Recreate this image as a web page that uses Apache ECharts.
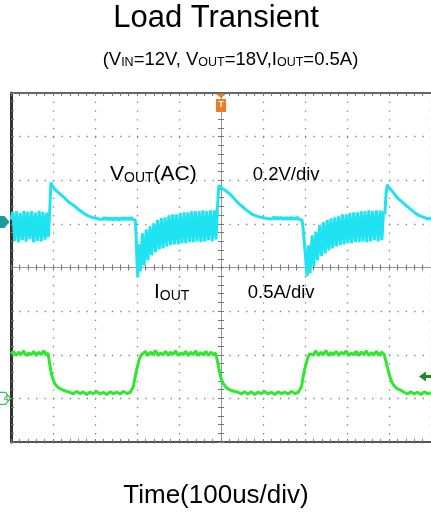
<!DOCTYPE html>
<html>
<head>
<meta charset="utf-8">
<script src="https://cdn.jsdelivr.net/npm/echarts@6/dist/echarts.min.js"></script>
<style>
html,body{margin:0;padding:0;background:#fff;}
#chart{width:431px;height:513px;}
</style>
</head>
<body>
<div id="chart"></div>
<script>
// ---- Axis ranges (time in us, 100us/div; Vout AC 0.2V/div; Iout 0.5A/div)
const timeRange = [-500, 500];
const voutRange = [-1.0, 0.6];
const ioutRange = [-0.5, 3.5];

// ---- VOUT (AC) waveform, [time us, volts]
const voutRipple1 = [[-500,0.020],[-496,0.055],[-491,-0.078],[-487,0.058],[-482,-0.085],[-478,0.050],[-473,-0.075],[-469,0.060],[-464,-0.082],[-460,0.055],[-455,-0.070],[-451,0.058],[-446,-0.085],[-442,0.052],[-437,-0.078],[-433,0.060],[-428,-0.080],[-424,0.055],[-419,-0.072],[-415,0.050],[-411,-0.060]];
const voutOvershoot1 = [[-408,0.050],[-405,0.190],[-403,0.180],[-400,0.178],[-397,0.162],[-394,0.170],[-391,0.150],[-388,0.158],[-385,0.140],[-382,0.148],[-379,0.130],[-376,0.138],[-373,0.120],[-370,0.126],[-367,0.108],[-364,0.116],[-361,0.098],[-358,0.106],[-355,0.090],[-352,0.096],[-349,0.082],[-346,0.088],[-343,0.072],[-340,0.078],[-337,0.062],[-334,0.068],[-331,0.055],[-328,0.060],[-325,0.046],[-322,0.052],[-319,0.040],[-316,0.046],[-313,0.034],[-310,0.040],[-306,0.030],[-302,0.037],[-298,0.026],[-294,0.034],[-290,0.022],[-286,0.031],[-282,0.020],[-278,0.030],[-274,0.019],[-270,0.029],[-266,0.018],[-262,0.028],[-258,0.017],[-254,0.029],[-250,0.018],[-246,0.028],[-242,0.017],[-238,0.029],[-234,0.018],[-230,0.030],[-226,0.019],[-222,0.029],[-218,0.018],[-214,0.030],[-210,0.020],[-206,0.028],[-204,0.018],[-202,-0.060],[-200,-0.170],[-198,-0.245]];
const voutRipple2 = [[-196,-0.094],[-192,-0.218],[-187,-0.043],[-183,-0.190],[-178,-0.025],[-174,-0.167],[-169,-0.011],[-165,-0.144],[-160,0.003],[-156,-0.130],[-151,0.017],[-147,-0.117],[-142,0.026],[-138,-0.112],[-133,0.030],[-129,-0.103],[-124,0.039],[-120,-0.098],[-115,0.044],[-111,-0.094],[-106,0.044],[-102,-0.094],[-97,0.049],[-93,-0.089],[-88,0.053],[-84,-0.089],[-79,0.053],[-75,-0.084],[-70,0.058],[-66,-0.084],[-61,0.058],[-57,-0.080],[-52,0.058],[-48,-0.084],[-43,0.062],[-39,-0.080],[-34,0.058],[-30,-0.075],[-25,0.062],[-21,-0.080],[-16,0.062],[-12,-0.071]];
const voutOvershoot2 = [[-8,0.090],[-5,0.177],[-2,0.186],[1,0.165],[4,0.172],[7,0.158],[10,0.164],[13,0.150],[16,0.156],[19,0.140],[22,0.146],[25,0.130],[28,0.134],[31,0.116],[34,0.120],[37,0.104],[40,0.108],[43,0.092],[46,0.096],[49,0.082],[52,0.086],[55,0.072],[58,0.076],[61,0.062],[64,0.066],[67,0.054],[70,0.058],[74,0.044],[78,0.050],[82,0.038],[86,0.044],[90,0.032],[94,0.040],[98,0.029],[102,0.037],[106,0.026],[110,0.035],[114,0.024],[118,0.033],[122,0.022],[126,0.032],[130,0.021],[134,0.031],[138,0.020],[142,0.031],[146,0.020],[150,0.030],[154,0.019],[158,0.030],[162,0.020],[166,0.031],[170,0.019],[174,0.030],[178,0.020],[182,0.031],[186,0.020],[190,0.028],[193,0.018],[196,-0.030],[199,-0.100],[202,-0.170],[205,-0.239]];
const voutRipple3 = [[208,-0.098],[212,-0.227],[217,-0.052],[221,-0.195],[226,-0.035],[230,-0.168],[235,-0.004],[239,-0.148],[244,0.008],[248,-0.135],[253,0.018],[257,-0.122],[262,0.025],[266,-0.112],[271,0.030],[275,-0.103],[280,0.035],[284,-0.098],[289,0.044],[293,-0.094],[298,0.044],[302,-0.089],[307,0.049],[311,-0.089],[316,0.053],[320,-0.084],[325,0.053],[329,-0.084],[334,0.058],[338,-0.080],[343,0.058],[347,-0.084],[352,0.062],[356,-0.080],[361,0.058],[365,-0.075],[370,0.062],[374,-0.080],[379,0.062],[383,-0.075],[387,0.058]];
const voutOvershoot3 = [[390,0.044],[393,0.136],[396,0.180],[399,0.168],[402,0.172],[405,0.156],[408,0.160],[411,0.142],[414,0.140],[417,0.126],[420,0.130],[423,0.114],[426,0.118],[429,0.104],[432,0.106],[435,0.094],[438,0.098],[441,0.084],[444,0.088],[447,0.074],[450,0.076],[453,0.064],[456,0.066],[459,0.055],[462,0.057],[465,0.046],[468,0.050],[472,0.038],[476,0.042],[480,0.032],[484,0.036],[488,0.026],[492,0.032],[496,0.022],[500,0.028]];

// ---- IOUT waveform, [time us, amps]
const ioutHigh1 = [[-500,0.510],[-494,0.540],[-488,0.490],[-482,0.530],[-476,0.500],[-470,0.545],[-464,0.490],[-458,0.520],[-452,0.500],[-446,0.540],[-440,0.490],[-434,0.530],[-428,0.500],[-422,0.545],[-416,0.495],[-412,0.520]];
const ioutLow1 = [[-408,0.400],[-404,0.285],[-400,0.220],[-396,0.170],[-390,0.135],[-384,0.113],[-376,0.095],[-368,0.082],[-360,0.070],[-352,0.050],[-344,0.080],[-336,0.055],[-328,0.075],[-320,0.045],[-312,0.070],[-304,0.055],[-296,0.080],[-288,0.050],[-280,0.070],[-272,0.045],[-264,0.075],[-256,0.055],[-248,0.070],[-240,0.050],[-232,0.080],[-224,0.055],[-216,0.070],[-213,0.065]];
const ioutHigh2 = [[-209,0.131],[-205,0.230],[-201,0.323],[-197,0.400],[-194,0.458],[-190,0.495],[-186,0.513],[-180,0.540],[-174,0.490],[-168,0.530],[-162,0.500],[-156,0.550],[-150,0.490],[-144,0.520],[-138,0.500],[-132,0.540],[-126,0.490],[-120,0.530],[-114,0.505],[-108,0.545],[-102,0.490],[-96,0.520],[-90,0.500],[-84,0.540],[-78,0.490],[-72,0.530],[-66,0.500],[-60,0.545],[-54,0.490],[-48,0.525],[-42,0.500],[-36,0.540],[-30,0.490],[-24,0.530],[-18,0.500],[-13,0.520]];
const ioutLow2 = [[-9,0.438],[-5,0.340],[-1,0.246],[4,0.180],[11,0.131],[18,0.105],[25,0.090],[31,0.082],[40,0.070],[48,0.050],[56,0.075],[64,0.050],[72,0.075],[80,0.045],[88,0.070],[96,0.055],[104,0.080],[112,0.050],[120,0.070],[128,0.045],[136,0.075],[144,0.055],[152,0.070],[160,0.050],[168,0.080],[176,0.055],[184,0.070],[188,0.065]];
const ioutHigh3 = [[192,0.140],[195,0.231],[199,0.330],[203,0.404],[207,0.470],[211,0.510],[214,0.530],[220,0.500],[226,0.545],[232,0.490],[238,0.530],[244,0.500],[250,0.550],[256,0.490],[262,0.525],[268,0.500],[274,0.540],[280,0.490],[286,0.530],[292,0.505],[298,0.545],[304,0.490],[310,0.520],[316,0.500],[322,0.540],[328,0.490],[334,0.530],[340,0.500],[346,0.545],[352,0.490],[358,0.525],[364,0.500],[370,0.540],[376,0.490],[382,0.530],[388,0.510]];
const ioutLow3 = [[392,0.440],[396,0.361],[402,0.250],[408,0.174],[414,0.135],[420,0.110],[428,0.094],[436,0.070],[444,0.050],[452,0.075],[460,0.050],[468,0.070],[476,0.045],[484,0.075],[492,0.055],[500,0.063]];

const triggerLevel = 0.25; // A
const titleText = 'Load Transient';
const xAxisTitle = 'Time(100us/div)';

const vout = [].concat(voutRipple1, voutOvershoot1, voutRipple2, voutOvershoot2, voutRipple3, voutOvershoot3);
const iout = [].concat(ioutHigh1, ioutLow1, ioutHigh2, ioutLow2, ioutHigh3, ioutLow3);

const FONT = '"Liberation Sans", Arial, sans-serif';
const dotH = [1.3, 7.1];   // dots along horizontal grid lines
const dotV = [1.3, 7.42];  // dots along vertical grid lines

function rt(fs, sfs) {
  return {
    m: {fontSize: fs, lineHeight: fs, fontFamily: FONT, fill: '#000'},
    s: {fontSize: sfs, lineHeight: sfs - 2, fontFamily: FONT, fill: '#000', verticalAlign: 'bottom'}
  };
}

const hiddenLabel = {show: false};
function borderX(pos, color, width, offset, tickInside, showLine) {
  return {
    type: 'value', min: timeRange[0], max: timeRange[1], interval: 100,
    position: pos, offset: offset || 0,
    axisLine: {show: showLine !== false, onZero: false, lineStyle: {color: color, width: width}},
    axisTick: {show: true, inside: tickInside, length: 3, lineStyle: {color: '#777', width: 1}},
    minorTick: {show: true, splitNumber: 5, length: 3, lineStyle: {color: '#777', width: 1}},
    axisLabel: hiddenLabel, splitLine: {show: false}
  };
}
function borderY(color, width, offset, tickInside, showLine) {
  return {
    type: 'value', min: -4, max: 4, interval: 1,
    position: 'left', offset: offset || 0,
    axisLine: {show: showLine !== false, onZero: false, lineStyle: {color: color, width: width}},
    axisTick: {show: true, inside: tickInside, length: 3, lineStyle: {color: '#777', width: 1}},
    minorTick: {show: true, splitNumber: 5, length: 3, lineStyle: {color: '#777', width: 1}},
    axisLabel: hiddenLabel, splitLine: {show: false}
  };
}

const chart = echarts.init(document.getElementById('chart'), null, {renderer: 'canvas'});
const xMain = borderX('bottom', '#555', 2, 0, true);
xMain.splitLine = {show: true, lineStyle: {color: '#808080', width: 1.3, type: dotV}};

const option = {
  animation: false,
  backgroundColor: '#fff',
  grid: {left: 11, right: 0, top: 93, bottom: 71},
  xAxis: [
    xMain,
    borderX('top', '#666', 2, 0, true),
    borderX('bottom', '#999', 1, -174.5, true),
    borderX('bottom', '#999', 1, -174.5, false, false)
  ],
  yAxis: [
    {
      type: 'value', min: voutRange[0], max: voutRange[1], interval: 0.2, position: 'left',
      axisLine: {show: true, onZero: false, lineStyle: {color: '#333', width: 3}},
      axisTick: {show: true, inside: true, length: 3, lineStyle: {color: '#777'}},
      minorTick: {show: true, splitNumber: 5, length: 3, lineStyle: {color: '#777'}},
      axisLabel: hiddenLabel,
      splitLine: {show: true, lineStyle: {color: '#808080', width: 1.3, type: dotH}}
    },
    {type: 'value', min: ioutRange[0], max: ioutRange[1], interval: 0.5, show: false},
    borderY('#999', 1, -210, true),
    borderY('#999', 1, -210, false, false)
  ],
  series: [
    {
      name: 'VOUT', type: 'line', xAxisIndex: 0, yAxisIndex: 0, data: vout,
      showSymbol: false, symbol: 'none', sampling: null, z: 3,
      lineStyle: {color: '#1fe3f0', width: 3},
      markPoint: {
        data: [
          {coord: [timeRange[0], 0], symbol: 'path://M0,0 L8,0 L13,6 L8,12 L0,12 Z', symbolSize: [13, 12],
           symbolOffset: [-8, -2], itemStyle: {color: '#1b9c9c'}, label: {show: false}},
          {coord: [0, voutRange[1]], symbol: 'path://M0,0 L10,0 L5,4 Z M0,5 L10,5 L10,18 L0,18 Z', symbolSize: [10, 18],
           symbolOffset: [0, 10], itemStyle: {color: '#f07c22'},
           label: {show: true, formatter: 'T', color: '#fff', fontSize: 9, fontWeight: 'bold', fontFamily: FONT, offset: [0, 2]}}
        ]
      }
    },
    {
      name: 'IOUT', type: 'line', xAxisIndex: 0, yAxisIndex: 1, data: iout,
      showSymbol: false, symbol: 'none', z: 3,
      lineStyle: {color: '#2ee82e', width: 3},
      markPoint: {
        data: [
          {coord: [timeRange[0], 0], symbol: 'path://M0,0 L8,0 L13,6 L8,12 L0,12 Z', symbolSize: [13, 12],
           symbolOffset: [-7, 0], itemStyle: {color: '#fff', borderColor: '#3cbf5a', borderWidth: 1.2},
           label: {show: true, formatter: '4', color: '#2a9a40', fontSize: 9, fontFamily: FONT, offset: [2, 0]}},
          {coord: [timeRange[1], triggerLevel], symbol: 'path://M0,5 L7,0 L7,3.5 L12,3.5 L12,6.5 L7,6.5 L7,10 Z', symbolSize: [12, 10],
           symbolOffset: [-6, 0], itemStyle: {color: '#1e8a24'}, label: {show: false}}
        ]
      }
    }
  ],
  graphic: [
    {type: 'text', x: 216, y: 18.7, style: {text: titleText, font: '31px ' + FONT, fill: '#000', align: 'center', verticalAlign: 'middle'}},
    {type: 'text', x: 230.5, y: 60, style: {text: '{m|(V}{s|IN}{m|=12V, V}{s|OUT}{m|=18V,I}{s|OUT}{m|=0.5A)}', rich: rt(18.5, 12.5), align: 'center', verticalAlign: 'middle'}},
    {type: 'text', x: 110, y: 174.5, z: 10, style: {text: '{m|V}{s|OUT}{m|(AC)}', rich: rt(21, 14), align: 'left', verticalAlign: 'middle'}},
    {type: 'text', x: 252.7, y: 175, z: 10, style: {text: '0.2V/div', font: '18.5px ' + FONT, fill: '#000', align: 'left', verticalAlign: 'middle'}},
    {type: 'text', x: 154, y: 292.5, z: 10, style: {text: '{m|I}{s|OUT}', rich: rt(21, 14), align: 'left', verticalAlign: 'middle'}},
    {type: 'text', x: 247.7, y: 292.7, z: 10, style: {text: '0.5A/div', font: '18.5px ' + FONT, fill: '#000', align: 'left', verticalAlign: 'middle'}},
    {type: 'text', x: 216, y: 496, style: {text: xAxisTitle, font: '26px ' + FONT, fill: '#000', align: 'center', verticalAlign: 'middle'}}
  ]
};
chart.setOption(option);
</script>
</body>
</html>
